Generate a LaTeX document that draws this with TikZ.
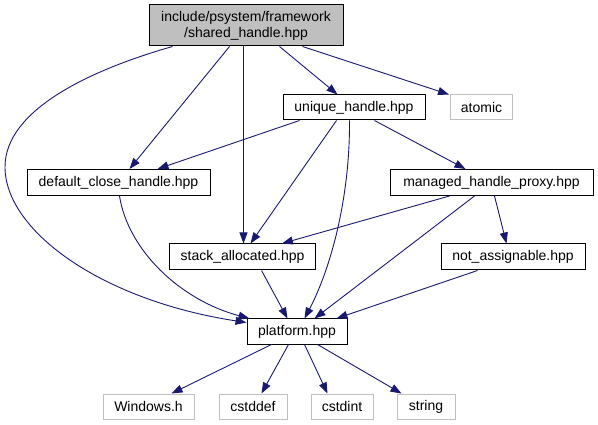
\documentclass[tikz,border=0pt]{standalone}
\usepackage{fontspec}
\setmainfont{Liberation Sans}
\usetikzlibrary{arrows.meta}
\definecolor{edgeblue}{HTML}{191970}
\definecolor{grayline}{HTML}{BFBFBF}
\tikzset{
  box/.style={draw=black, line width=1pt, fill=white, inner sep=0pt, minimum height=26pt,
              font=\fontsize{14}{16}\selectfont, align=center},
  extbox/.style={box, draw=grayline},
  mainbox/.style={box, fill=grayline},
  dep/.style={draw=edgeblue, line width=0.9pt, -{Triangle[length=11pt,width=8pt]}}
}
\begin{document}
\begin{tikzpicture}[x=1pt,y=-1pt]
\useasboundingbox (0,0) rectangle (598,425);
% nodes
\node[mainbox, minimum width=194pt, minimum height=41pt] (shared) at (246,25.5) {include/psystem/framework\\/shared\_handle.hpp};
\node[box, minimum width=142pt, minimum height=25pt] (unique) at (354,107.5) {unique\_handle.hpp};
\node[extbox, minimum width=62pt, minimum height=25pt] (atomic) at (481.5,107.5) {atomic};
\node[box, minimum width=183pt] (dch) at (118.5,182.5) {default\_close\_handle.hpp};
\node[box, minimum width=203pt] (mhp) at (491.5,182.5) {managed\_handle\_proxy.hpp};
\node[box, minimum width=146pt] (stack) at (242.5,257) {stack\_allocated.hpp};
\node[box, minimum width=144pt] (notas) at (513,257) {not\_assignable.hpp};
\node[box, minimum width=100pt, minimum height=25pt] (platform) at (297,331.5) {platform.hpp};
\node[extbox, minimum width=91pt, minimum height=25pt] (windows) at (148.5,406.5) {Windows.h};
\node[extbox, minimum width=68pt, minimum height=25pt] (cstddef) at (253,406.5) {cstddef};
\node[extbox, minimum width=62pt, minimum height=25pt] (cstdint) at (342,406.5) {cstdint};
\node[extbox, minimum width=58pt, minimum height=25pt] (string) at (426,406.5) {string};
% edges from shared
\draw[dep] ([xshift=81pt]shared.south west) -- ([xshift=103pt]dch.north west);
\draw[dep] ([xshift=95pt]shared.south west) -- ([xshift=74.5pt]stack.north west);
\draw[dep] ([xshift=24pt]shared.south west) .. controls (90,70) and (5,110) .. (5,167)
           .. controls (5,230) and (100,300) .. ([yshift=-4pt]platform.north west);
\draw[dep] ([xshift=131pt]shared.south west) -- ([xshift=55pt]unique.north west);
\draw[dep] ([xshift=154pt]shared.south west) -- ([xshift=-1pt]atomic.north west);
% edges from unique
\draw[dep] ([xshift=17pt]unique.south west) -- ([xshift=131pt]dch.north west);
\draw[dep] ([xshift=54pt]unique.south west) -- ([xshift=81.5pt]stack.north west);
\draw[dep] ([xshift=67pt]unique.south west) .. controls (350,200) and (330,270) .. ([xshift=58pt]platform.north west);
\draw[dep] ([xshift=92pt]unique.south west) -- ([xshift=76pt]mhp.north west);
% default_close_handle
\draw[dep] ([xshift=93pt]dch.south west) .. controls (128,250) and (180,300) .. ([xshift=3pt]platform.north west);
% managed_handle_proxy
\draw[dep] ([xshift=60pt]mhp.south west) -- ([xshift=113pt]stack.north west);
\draw[dep] ([xshift=85pt]mhp.south west) -- ([xshift=68pt]platform.north west);
\draw[dep] ([xshift=105pt]mhp.south west) -- ([xshift=66pt]notas.north west);
% not_assignable, stack_allocated
\draw[dep] ([xshift=37pt]notas.south west) -- ([xshift=90pt]platform.north west);
\draw[dep] ([xshift=92.5pt]stack.south west) -- ([xshift=41pt]platform.north west);
% platform
\draw[dep] ([xshift=25pt]platform.south west) -- ([xshift=69pt]windows.north west);
\draw[dep] ([xshift=42pt]platform.south west) -- ([xshift=43pt]cstddef.north west);
\draw[dep] ([xshift=58pt]platform.south west) -- ([xshift=17pt]cstdint.north west);
\draw[dep] ([xshift=71pt]platform.south west) -- ([xshift=5pt]string.north west);
\end{tikzpicture}
\end{document}
